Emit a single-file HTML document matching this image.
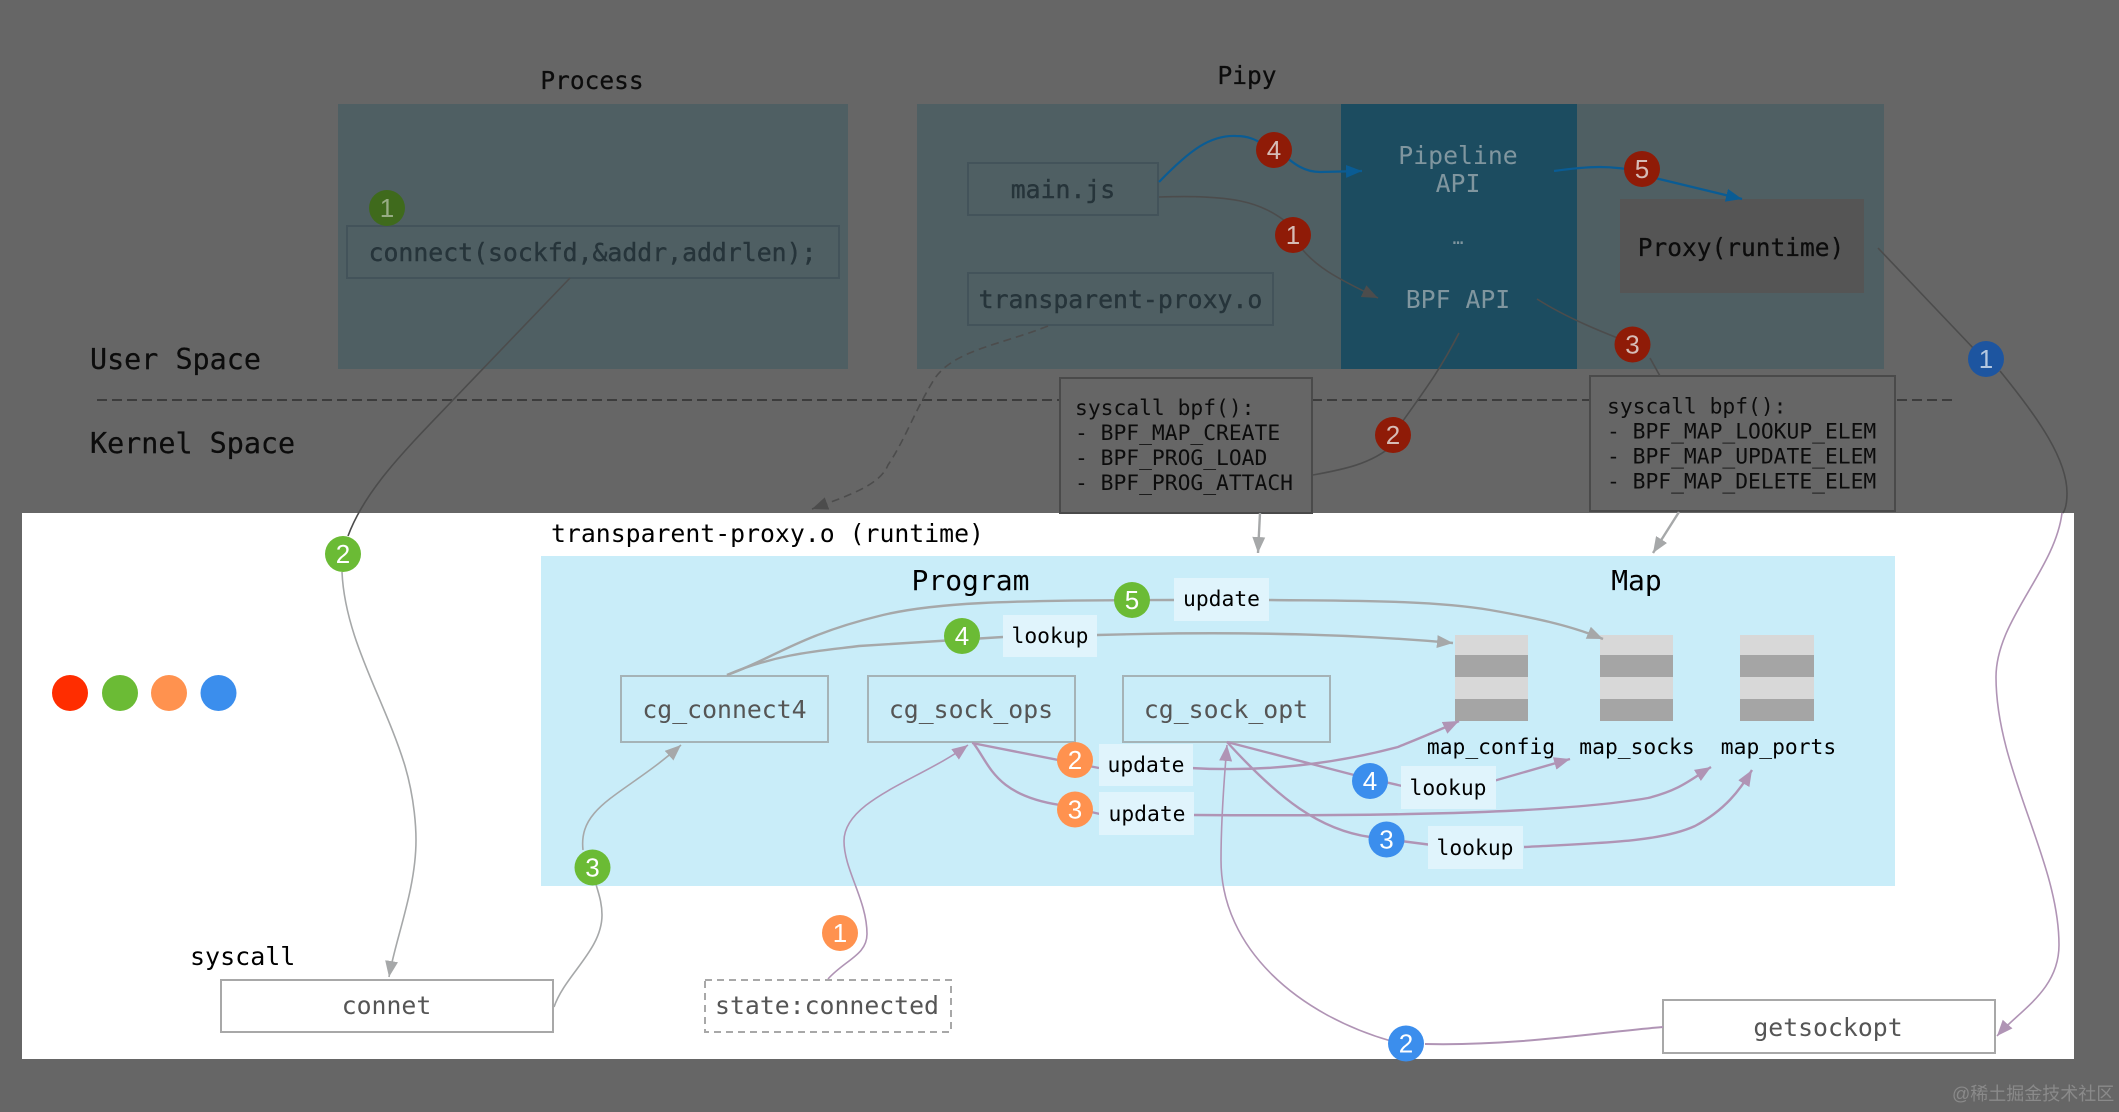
<!DOCTYPE html>
<html><head><meta charset="utf-8"><title>Diagram</title>
<style>
html,body{margin:0;padding:0;background:#666;width:2119px;height:1112px;overflow:hidden}
svg{display:block}
text{font-family:"DejaVu Sans Mono","Liberation Mono",monospace}
.b text,text.n{font-family:"Liberation Sans",sans-serif;font-size:26px;text-anchor:middle}
.m{text-anchor:middle}
.f{fill:none}
</style></head><body>
<svg width="2119" height="1112" viewBox="0 0 2119 1112" xmlns="http://www.w3.org/2000/svg">
<defs>
<marker id="g" markerUnits="userSpaceOnUse" markerWidth="18" markerHeight="14" refX="16" refY="6.5" orient="auto"><path d="M0 0L16 6.5L0 13z" fill="#a6a8a9"/></marker>
<marker id="p" markerUnits="userSpaceOnUse" markerWidth="18" markerHeight="14" refX="16" refY="6.5" orient="auto"><path d="M0 0L16 6.5L0 13z" fill="#b094b5"/></marker>
<marker id="u" markerUnits="userSpaceOnUse" markerWidth="18" markerHeight="14" refX="16" refY="6.5" orient="auto"><path d="M0 0L16 6.5L0 13z" fill="#0a5c94"/></marker>
<marker id="d" markerUnits="userSpaceOnUse" markerWidth="18" markerHeight="14" refX="16" refY="6.5" orient="auto"><path d="M0 0L16 6.5L0 13z" fill="#4c4c4c"/></marker>
</defs>
<rect width="2119" height="1112" fill="#666"/>
<!-- top areas -->
<rect x="338" y="104" width="510" height="265" fill="#4f5f63"/>
<rect x="917" y="104" width="967" height="265" fill="#4f5f63"/>
<rect x="1341" y="104" width="236" height="265" fill="#1c4c60"/>
<rect x="1620" y="199" width="244" height="94" fill="#555"/>
<line x1="97" y1="400" x2="1954" y2="400" stroke="#3c3c3c" stroke-width="2" stroke-dasharray="10 5"/>
<!-- white region -->
<rect x="22" y="513" width="2052" height="546" fill="#fff"/>
<rect x="541" y="556" width="1354" height="330" fill="#c9edf9"/>
<!-- top boxes -->
<g fill="none" stroke="#43535a" stroke-width="2">
<rect x="347" y="226" width="492" height="52"/>
<rect x="968" y="163" width="190" height="52"/>
<rect x="968" y="273" width="305" height="52"/>
</g>
<rect x="1060" y="378" width="252" height="135" fill="#666" stroke="#4a4a4a" stroke-width="2"/>
<rect x="1590" y="376" width="305" height="135" fill="#666" stroke="#4a4a4a" stroke-width="2"/>
<!-- lower boxes -->
<g fill="none" stroke="#a5b3b7" stroke-width="2">
<rect x="621" y="676" width="207" height="66"/>
<rect x="868" y="676" width="207" height="66"/>
<rect x="1123" y="676" width="207" height="66"/>
</g>
<g fill="#fff" stroke="#a8a8a8" stroke-width="2">
<rect x="221" y="980" width="332" height="52"/>
<rect x="1663" y="1000" width="332" height="53"/>
<rect x="705" y="980" width="246" height="52" stroke-dasharray="7 5"/>
</g>
<!-- map stacks -->
<g>
<rect x="1455" y="635" width="73" height="86" fill="#d8d8d8"/><rect x="1455" y="655" width="73" height="22" fill="#a5a5a5"/><rect x="1455" y="699" width="73" height="22" fill="#a5a5a5"/>
<rect x="1600" y="635" width="73" height="86" fill="#d8d8d8"/><rect x="1600" y="655" width="73" height="22" fill="#a5a5a5"/><rect x="1600" y="699" width="73" height="22" fill="#a5a5a5"/>
<rect x="1740" y="635" width="74" height="86" fill="#d8d8d8"/><rect x="1740" y="655" width="74" height="22" fill="#a5a5a5"/><rect x="1740" y="699" width="74" height="22" fill="#a5a5a5"/>
</g>
<!-- dark connectors -->
<g class="f" stroke="#4c4c4c" stroke-width="1.6">
<path d="M570 278L453 400C405 450 365 490 348 536"/>
<path d="M1159 197C1230 195 1260 200 1290 225"/>
<path d="M1296 240C1310 265 1340 280 1378 298" marker-end="url(#d)"/>
<path d="M1537 299C1570 320 1610 335 1633 344"/>
<path d="M1650 358L1660 376"/>
<path d="M1459 333C1440 370 1425 390 1400 425"/>
<path d="M1393 445C1370 465 1340 470 1313 475"/>
<path d="M1878 248L1975 350"/>
<path d="M2000 371C2040 420 2067 460 2067 493C2067 505 2065 510 2063 513"/>
<path d="M1048 326C1000 345 955 350 935 378C915 410 905 440 888 465C880 485 850 495 812 509" stroke-dasharray="8 5" marker-end="url(#d)"/>
</g>
<!-- blue connectors -->
<g class="f" stroke="#0a5c94" stroke-width="2.2">
<path d="M1159 182C1190 150 1210 135 1236 136C1255 136 1262 145 1275 150"/>
<path d="M1280 152C1295 165 1305 172 1320 172L1362 171" marker-end="url(#u)"/>
<path d="M1554 171C1590 166 1610 165 1643 172"/>
<path d="M1655 178L1742 199" marker-end="url(#u)"/>
</g>
<!-- gray connectors -->
<g class="f" stroke="#a6a8a9" stroke-width="2.4">
<path d="M342 572C345 640 385 700 405 766C415 800 416 830 416 840C416 890 395 940 389 977" stroke-width="1.6" marker-end="url(#g)"/>
<path d="M554 1007C565 975 602 950 602 915C602 900 597 890 595 880" stroke-width="1.6"/>
<path d="M583 850C578 805 625 795 681 745" stroke-width="1.6" marker-end="url(#g)"/>
<path d="M1260 513L1258 553" marker-end="url(#g)"/>
<path d="M1679 512L1653 553" marker-end="url(#g)"/>
<path d="M727 675C770 660 800 635 879 616C930 603 1000 600 1174 600"/>
<path d="M1269 600C1350 601 1430 600 1490 610C1530 617 1570 625 1603 639" marker-end="url(#g)"/>
<path d="M727 675C780 652 830 650 859 646L1003 637"/>
<path d="M1097 635C1200 632 1330 632 1453 643" marker-end="url(#g)"/>
</g>
<!-- purple connectors -->
<g class="f" stroke="#b094b5" stroke-width="2.4">
<path d="M828 979C845 960 867 955 867 934C867 900 844 870 844 841C844 800 920 780 968 745" stroke-width="1.6" marker-end="url(#p)"/>
<path d="M972 743L1099 768"/>
<path d="M1190 768C1260 772 1330 765 1398 747C1420 738 1440 730 1459 721" marker-end="url(#p)"/>
<path d="M974 744C990 765 995 795 1060 805L1100 814"/>
<path d="M1194 815C1350 816 1550 815 1648 798C1680 790 1690 780 1711 767" marker-end="url(#p)"/>
<path d="M1227 742L1354 775L1411 788"/>
<path d="M1490 782L1570 759" marker-end="url(#p)"/>
<path d="M1227 742C1280 800 1320 830 1370 837L1432 845"/>
<path d="M1524 847C1600 843 1660 842 1695 826C1725 810 1740 790 1752 770" marker-end="url(#p)"/>
<path d="M1663 1027C1600 1032 1520 1046 1425 1044" stroke-width="2"/>
<path d="M1391 1041C1300 1015 1221 950 1221 860C1221 820 1224 780 1227 745" stroke-width="1.6" marker-end="url(#p)"/>
<path d="M2062 513C2055 570 1996 620 1996 677C1996 770 2059 860 2059 945C2059 990 2020 1010 1997 1036" stroke-width="1.6" marker-end="url(#p)"/>
</g>
<!-- label rects -->
<g fill="#e0f4fc">
<rect x="1174" y="578" width="95" height="43"/>
<rect x="1003" y="615" width="94" height="42"/>
<rect x="1099" y="744" width="94" height="42"/>
<rect x="1099" y="792" width="95" height="43"/>
<rect x="1401" y="766" width="95" height="43"/>
<rect x="1428" y="826" width="95" height="43"/>
</g>
<!-- headings -->
<g fill="#0c0c0c" font-size="24.5" stroke="#0c0c0c" stroke-width=".25">
<text class="m" x="592" y="89">Process</text>
<text class="m" x="1247" y="84">Pipy</text>
<text class="m" x="1741" y="256">Proxy(runtime)</text>
</g>
<g fill="#0c0c0c" font-size="28.4" stroke="#0c0c0c" stroke-width=".25">
<text x="90" y="369">User Space</text>
<text x="90" y="453">Kernel Space</text>
</g>
<text x="551" y="542" font-size="24.8" fill="#000">transparent-proxy.o (runtime)</text>
<g font-size="24.8" fill="#26343a" stroke="#26343a" stroke-width=".4">
<text class="m" x="592.5" y="261">connect(sockfd,&amp;addr,addrlen);</text>
<text class="m" x="1063" y="198">main.js</text>
<text class="m" x="1120.5" y="308">transparent-proxy.o</text>
</g>
<g font-size="24.8" fill="#80969f">
<text class="m" x="1458" y="164">Pipeline</text>
<text class="m" x="1458" y="192">API</text>
<text class="m" x="1458" y="244" font-size="18">…</text>
<text class="m" x="1458" y="308">BPF API</text>
</g>
<g font-size="21.3" fill="#0c0c0c">
<text x="1075" y="415">syscall bpf():</text>
<text x="1075" y="440">- BPF_MAP_CREATE</text>
<text x="1075" y="465">- BPF_PROG_LOAD</text>
<text x="1075" y="490">- BPF_PROG_ATTACH</text>
<text x="1607" y="413.5">syscall bpf():</text>
<text x="1607" y="438.5">- BPF_MAP_LOOKUP_ELEM</text>
<text x="1607" y="463.5">- BPF_MAP_UPDATE_ELEM</text>
<text x="1607" y="488.5">- BPF_MAP_DELETE_ELEM</text>
</g>
<g font-size="28" fill="#000">
<text class="m" x="970.5" y="590">Program</text>
<text class="m" x="1636.5" y="590">Map</text>
</g>
<g font-size="24.8" fill="#555">
<text class="m" x="724.5" y="718">cg_connect4</text>
<text class="m" x="971" y="718">cg_sock_ops</text>
<text class="m" x="1226" y="718">cg_sock_opt</text>
<text class="m" x="386.5" y="1014">connet</text>
<text class="m" x="827" y="1014">state:connected</text>
<text class="m" x="1828" y="1036">getsockopt</text>
</g>
<text x="190" y="965" font-size="25" fill="#000">syscall</text>
<g font-size="21.3" fill="#000">
<text class="m" x="1491" y="754">map_config</text>
<text class="m" x="1637" y="754">map_socks</text>
<text class="m" x="1778.5" y="754">map_ports</text>
<text class="m" x="1221.5" y="606">update</text>
<text class="m" x="1050" y="643">lookup</text>
<text class="m" x="1146" y="772">update</text>
<text class="m" x="1147" y="821">update</text>
<text class="m" x="1448" y="795">lookup</text>
<text class="m" x="1475" y="855">lookup</text>
</g>
<!-- legend dots -->
<circle cx="70" cy="693" r="18" fill="#ff2d00"/>
<circle cx="120" cy="693" r="18" fill="#6bbb35"/>
<circle cx="169" cy="693" r="18" fill="#ff924f"/>
<circle cx="218.5" cy="693" r="18" fill="#3b8eed"/>
<!-- badges -->
<g class="b">
<g fill="#3f6a1c"><circle cx="387" cy="208" r="18"/></g>
<text x="387" y="217" fill="#98ad85">1</text>
<g fill="#8f1b07">
<circle cx="1274" cy="150" r="18"/><circle cx="1293" cy="235" r="18"/><circle cx="1393" cy="435" r="18"/><circle cx="1632.5" cy="344.5" r="18"/><circle cx="1642" cy="169" r="18"/>
</g>
<g fill="#d6bcb6">
<text x="1274" y="159">4</text><text x="1293" y="244">1</text><text x="1393" y="444">2</text><text x="1632.5" y="353.5">3</text><text x="1642" y="178">5</text>
</g>
<circle cx="1986" cy="359" r="18" fill="#1d55a0"/>
<text x="1986" y="368" fill="#b5c8e0">1</text>
<g fill="#6bbb35">
<circle cx="343" cy="554" r="18"/><circle cx="592.5" cy="867.5" r="18"/><circle cx="962" cy="636" r="18"/><circle cx="1132" cy="600" r="18"/>
</g>
<g fill="#ff924f">
<circle cx="840" cy="933" r="18"/><circle cx="1075" cy="760" r="18"/><circle cx="1075" cy="809.5" r="18"/>
</g>
<g fill="#3b8eed">
<circle cx="1370" cy="781" r="18"/><circle cx="1386.5" cy="839.5" r="18"/><circle cx="1406" cy="1043.5" r="18"/>
</g>
<g fill="#fff">
<text x="343" y="563">2</text><text x="592.5" y="876.5">3</text><text x="962" y="645">4</text><text x="1132" y="609">5</text>
<text x="840" y="942">1</text><text x="1075" y="769">2</text><text x="1075" y="818.5">3</text>
<text x="1370" y="790">4</text><text x="1386.5" y="848.5">3</text><text x="1406" y="1052.5">2</text>
</g>
</g>
<text x="1952" y="1100" font-size="18" fill="#8a8a8a" style="font-family:'Liberation Sans','Noto Sans CJK SC',sans-serif">@稀土掘金技术社区</text>
</svg>
</body></html>
